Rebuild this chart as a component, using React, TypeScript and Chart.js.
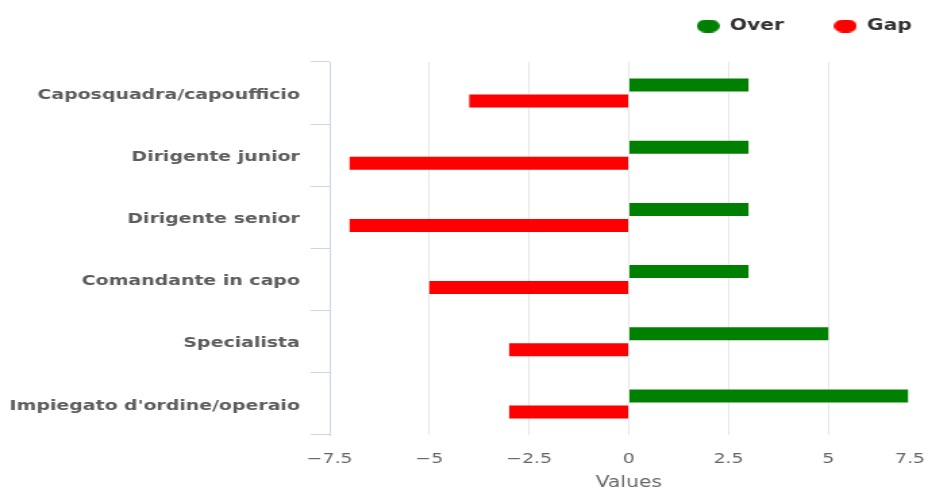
import { useEffect, useRef } from 'react';
import { Chart, registerables } from 'chart.js';

Chart.register(...registerables);

// Data
const categories = [
  'Caposquadra/capoufficio',
  'Dirigente junior',
  'Dirigente senior',
  'Comandante in capo',
  'Specialista',
  "Impiegato d'ordine/operaio",
];
const overValues = [3, 3, 3, 3, 5, 7];
const gapValues = [-4, -7, -7, -5, -3, -3];
const seriesNames = ['Over', 'Gap'];
const seriesColors = ['#008000', '#ff0000'];
const xTickValues = [-7.5, -5, -2.5, 0, 2.5, 5, 7.5];
const xAxisTitle = 'Values';

// Drawing is done on a narrower canvas and widened horizontally
const INNER_W = 687;
const OUTER_W = 928;
const H = 489;
const FONT = 'DejaVu Sans';

function pillMark(color: string): HTMLCanvasElement {
  const c = document.createElement('canvas');
  c.width = 17;
  c.height = 13;
  const ctx = c.getContext('2d')!;
  ctx.fillStyle = color;
  ctx.beginPath();
  ctx.roundRect(0, 0, 17, 13, 6.5);
  ctx.fill();
  return c;
}

function formatTick(v: number): string {
  const s = v < 0 ? '\u2212' + Math.abs(v) : String(v);
  // keep the last label inside the right edge
  return v === xTickValues[xTickValues.length - 1] ? s + '      ' : s;
}

const legendNudge = {
  id: 'legendNudge',
  afterLayout(chart: any) {
    const lg = chart.legend;
    if (!lg) return;
    lg.top -= 18.5;
    lg.bottom -= 18.5;
    lg.left += 25;
    lg.right += 25;
  },
};

export default function App() {
  const canvasRef = useRef<HTMLCanvasElement | null>(null);

  useEffect(() => {
    if (!canvasRef.current) return;
    Chart.defaults.font.family = FONT;
    const marks = seriesColors.map(pillMark);

    const chart = new Chart(canvasRef.current, {
      type: 'bar',
      data: {
        labels: categories,
        datasets: [
          {
            label: seriesNames[0],
            data: overValues,
            backgroundColor: seriesColors[0],
            borderWidth: 0,
          },
          {
            label: seriesNames[1],
            data: gapValues,
            backgroundColor: seriesColors[1],
            borderWidth: 0,
          },
        ],
      },
      options: {
        indexAxis: 'y',
        animation: false,
        responsive: true,
        maintainAspectRatio: false,
        layout: { padding: 0 },
        datasets: {
          bar: { categoryPercentage: 0.515, barPercentage: 0.81 },
        },
        plugins: {
          tooltip: { enabled: false },
          legend: {
            position: 'top',
            align: 'end',
            labels: {
              usePointStyle: true,
              pointStyleWidth: 17,
              padding: 37,
              color: '#333333',
              font: { family: FONT, size: 15, weight: 'bold' },
              generateLabels: (c: any) =>
                Chart.defaults.plugins.legend.labels
                  .generateLabels(c)
                  .map((item: any, i: number) => ({ ...item, pointStyle: marks[i], lineWidth: 0 })),
            },
          },
        },
        scales: {
          x: {
            type: 'linear',
            position: 'bottom',
            min: xTickValues[0],
            max: xTickValues[xTickValues.length - 1],
            afterBuildTicks: (scale: any) => {
              scale.ticks = xTickValues.map((v) => ({ value: v }));
            },
            afterFit: (scale: any) => {
              scale.paddingLeft = 0;
              scale.paddingRight = 0;
              scale.height = 54;
            },
            grid: { color: '#e6e6e6', drawTicks: false, lineWidth: 1 },
            border: { display: false },
            ticks: {
              padding: 16,
              color: '#666666',
              font: { family: FONT, size: 14 },
              maxRotation: 0,
              autoSkip: false,
              callback: (v: any) => formatTick(Number(v)),
            },
            title: {
              display: true,
              text: xAxisTitle,
              color: '#666666',
              font: { family: FONT, size: 15 },
              padding: { top: 0, bottom: -3 },
            },
          },
          y: {
            type: 'category',
            position: 'left',
            offset: true,
            afterFit: (scale: any) => {
              scale.width = 244;
              scale.paddingTop = 62;
            },
            grid: {
              offset: true,
              drawOnChartArea: false,
              color: '#ccd6eb',
              tickLength: 14,
            },
            border: { color: '#ccd6eb' },
            ticks: {
              padding: 8,
              labelOffset: 2,
              color: '#5c5c5c',
              font: { family: FONT, size: 14, weight: 'bold' },
            },
          },
        },
      },
      plugins: [legendNudge],
    } as any);

    return () => chart.destroy();
  }, []);

  return (
    <div
      style={{
        position: 'absolute',
        left: 0,
        top: 0,
        width: OUTER_W,
        height: H,
        overflow: 'hidden',
        background: '#ffffff',
      }}
    >
      <div
        style={{
          position: 'relative',
          width: INNER_W,
          height: H,
          transform: `scaleX(${OUTER_W / INNER_W})`,
          transformOrigin: '0 0',
        }}
      >
        <canvas ref={canvasRef} />
      </div>
    </div>
  );
}
